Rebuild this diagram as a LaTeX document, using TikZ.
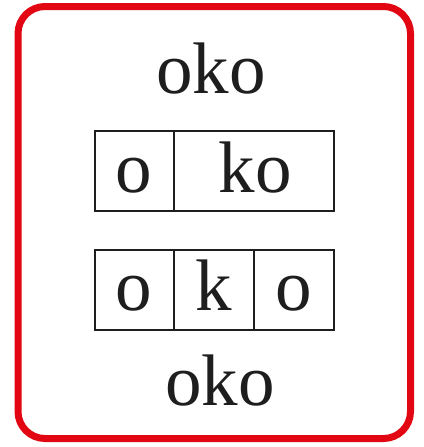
\documentclass[tikz,border=0pt]{standalone}
\usepackage{fontspec}
\setmainfont{Liberation Serif}
\definecolor{frame}{RGB}{226,6,19}
\definecolor{ink}{RGB}{30,30,30}
\begin{document}
\begin{tikzpicture}[x=1pt,y=-1pt,
  cell/.style={draw=ink,line width=1.3pt},
  big/.style={inner sep=0pt,anchor=base,text=ink,font=\fontsize{73}{73}\selectfont}]
\useasboundingbox (0,0) rectangle (423,447);
\draw[frame,line width=7pt,rounded corners=27pt] (18,6.5) rectangle (410.5,438.5);
\node[big] (top) at (211,93) {oko};
\draw[cell] (95,131) rectangle (334,211);
\draw[cell] (174,131) -- (174,211);
\node[big] (a1) at (134,192) {o};
\node[big] (a2) at (255,192) {ko};
\draw[cell] (95,250) rectangle (334,330);
\draw[cell] (174,250) -- (174,330);
\draw[cell] (254,250) -- (254,330);
\node[big] (b1) at (134,310) {o};
\node[big] (b2) at (214,310) {k};
\node[big] (b3) at (294,310) {o};
\node[big] (bot) at (220,405) {oko};
\end{tikzpicture}
\end{document}
